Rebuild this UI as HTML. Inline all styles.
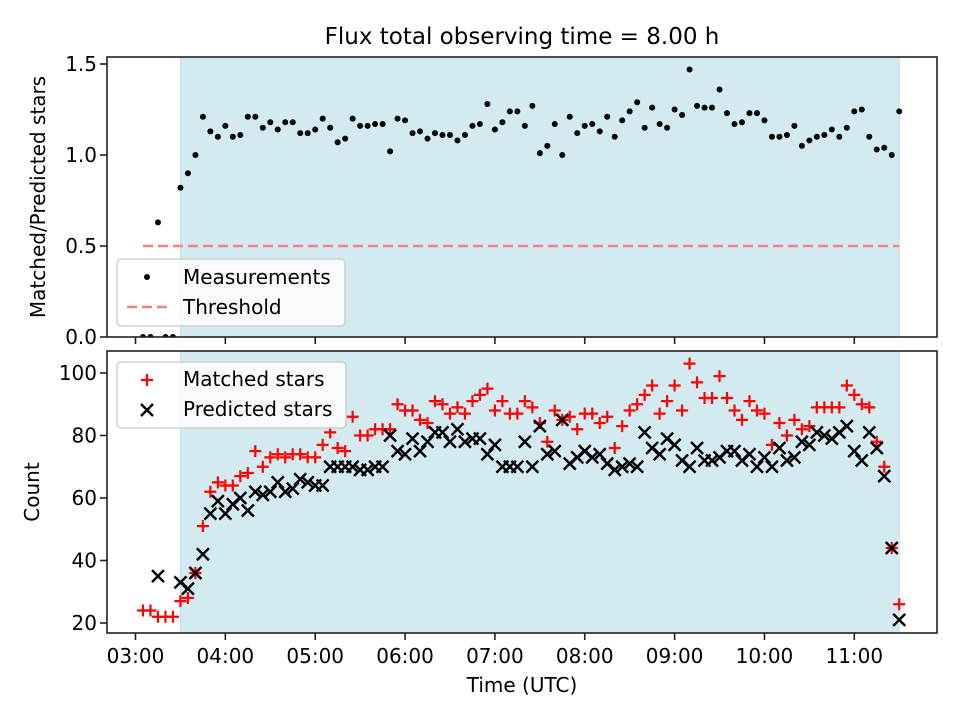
<!DOCTYPE html>
<html><head><meta charset="utf-8"><style>
html,body{margin:0;padding:0;background:#fff;}
svg{display:block;font-family:"DejaVu Sans","Liberation Sans",sans-serif;}
</style></head><body>
<svg id="fig" width="960" height="720" viewBox="0 0 960 720" xmlns="http://www.w3.org/2000/svg"></svg>
<script>
const ratioValues=[0,0,0.63,0,0,0.82,0.90,1.0,1.21,1.13,
1.10,1.16,1.10,1.11,1.21,1.21,1.15,1.18,1.14,1.18,
1.18,1.12,1.12,1.14,1.20,1.15,1.07,1.09,1.20,1.16,
1.16,1.17,1.17,1.02,1.20,1.19,1.12,1.13,1.09,1.12,
1.11,1.11,1.08,1.11,1.16,1.17,1.28,1.14,1.18,1.24,
1.24,1.16,1.27,1.01,1.05,1.17,1.00,1.21,1.12,1.16,
1.17,1.13,1.21,1.10,1.19,1.24,1.29,1.15,1.26,1.17,
1.15,1.25,1.22,1.47,1.27,1.26,1.26,1.36,1.23,1.17,
1.18,1.23,1.23,1.19,1.10,1.10,1.11,1.16,1.05,1.08,
1.10,1.11,1.14,1.10,1.15,1.24,1.25,1.10,1.03,1.04,
1.00,1.24];
const matchedValues=[24,24,22,22,22,27,28,36,51,62,65,64,64,67,68,75,70,73,74,73,74,74,73,73,77,
81,76,75,86,80,80,82,82,82,90,88,88,85,84,91,90,87,89,87,91,93,95,88,91,87,
87,91,89,84,78,88,85,86,82,87,87,84,86,76,83,88,90,93,96,87,91,96,88,
103,97,92,92,99,92,88,85,91,88,87,77,84,80,85,82,83,89,89,89,89,96,93,90,89,78,70,44,26];
const predictedValues=[0,0,35,0,0,33,31,36,42,55,59,55,58,60,56,62,61,62,65,62,63,66,65,64,64,
70,70,70,70,69,69,70,70,80,75,74,79,75,78,81,81,78,82,78,79,79,74,77,70,70,
70,78,70,83,74,75,85,71,73,75,73,74,71,69,70,71,70,81,76,74,79,77,72,
70,76,72,72,73,75,75,72,74,70,73,70,76,72,73,78,77,81,80,79,81,83,75,72,81,76,67,44,21];
const startMinute=5, stepMinute=5; // sample times: minutes after 03:00
const xTickLabels=["03:00","04:00","05:00","06:00","07:00","08:00","09:00","10:00","11:00"];
const xTickMinutes=[0,60,120,180,240,300,360,420,480];
const topTickValues=[0,0.5,1.0,1.5];
const topTickLabels=["0.0","0.5","1.0","1.5"];
const botTickValues=[20,40,60,80,100];
const threshold=0.5;
const shadeStart=30, shadeEnd=510;

const NS="http://www.w3.org/2000/svg";
const svg=document.getElementById('fig');
function el(tag,attrs,parent){const e=document.createElementNS(NS,tag);for(const k in attrs)e.setAttribute(k,attrs[k]);(parent||svg).appendChild(e);return e;}
const L=107,R=937,T1=57,B1=337,T2=351,B2=633;
const FS=20;
const xS=m=>135.5+m*89.85/60;
const y1=v=>337-v*182;
const y2=v=>623-(v-20)*3.125;

const defs=el('defs',{});
const c1=el('clipPath',{id:'c1'},defs);el('rect',{x:L,y:T1,width:R-L,height:B1-T1},c1);
const c2=el('clipPath',{id:'c2'},defs);el('rect',{x:L,y:T2,width:R-L,height:B2-T2},c2);

for(const [t,b,n] of [[T1,B1,'top'],[T2,B2,'bottom']]){
  const s=el('rect',{x:xS(shadeStart),y:t,width:xS(shadeEnd)-xS(shadeStart),height:b-t,fill:'#d4eaf1',stroke:'#c0dde8','stroke-width':1});
  
  
}

const th=el('line',{x1:xS(startMinute),x2:xS(shadeEnd),y1:y1(threshold),y2:y1(threshold),stroke:'#ff7f7f','stroke-width':2.5,'stroke-dasharray':'10,5'});



const g1=el('g',{'clip-path':'url(#c1)'});


ratioValues.forEach((v,i)=>{
  const c=el('circle',{cx:xS(startMinute+i*stepMinute),cy:y1(v),r:3,fill:'#000'},g1);
  
  
});

const g2=el('g',{'clip-path':'url(#c2)'});


matchedValues.forEach((v,i)=>{
  const x=xS(startMinute+i*stepMinute),y=y2(v),s=6;
  const p=el('path',{d:`M${x-s},${y}H${x+s}M${x},${y-s}V${y+s}`,stroke:'#ff0000','stroke-width':2.2,fill:'none'},g2);
  
  
});
const g3=el('g',{'clip-path':'url(#c2)'});


predictedValues.forEach((v,i)=>{
  const x=xS(startMinute+i*stepMinute),y=y2(v),s=6;
  const p=el('path',{d:`M${x-s},${y-s}L${x+s},${y+s}M${x-s},${y+s}L${x+s},${y-s}`,stroke:'#000','stroke-width':2.4,fill:'none'},g3);
  
  
});

for(const [t,b,n] of [[T1,B1,'top'],[T2,B2,'bottom']]){
  const f=el('rect',{x:L,y:t,width:R-L,height:b-t,fill:'none',stroke:'#222','stroke-width':1.6});
  
  
}

xTickMinutes.forEach((m,i)=>{
  const x=xS(m);
  el('line',{x1:x,x2:x,y1:B1,y2:B1+7,stroke:'#222','stroke-width':1.6});
  el('line',{x1:x,x2:x,y1:B2,y2:B2+7,stroke:'#222','stroke-width':1.6});
  const t=el('text',{x:x,y:B2+30,'font-size':FS,'text-anchor':'middle'});
  t.textContent=xTickLabels[i];
  
  
});
topTickValues.forEach((v,i)=>{
  const y=y1(v);
  el('line',{x1:L-7,x2:L,y1:y,y2:y,stroke:'#222','stroke-width':1.6});
  const t=el('text',{x:L-10,y:y+7,'font-size':FS,'text-anchor':'end'});
  t.textContent=topTickLabels[i];
  
  
});
botTickValues.forEach(v=>{
  const y=y2(v);
  el('line',{x1:L-7,x2:L,y1:y,y2:y,stroke:'#222','stroke-width':1.6});
  const t=el('text',{x:L-10,y:y+7,'font-size':FS,'text-anchor':'end'});
  t.textContent=String(v);
  
  
});

let t=el('text',{x:522,y:44,'font-size':23,'text-anchor':'middle'});t.textContent='Flux total observing time = 8.00 h';

t=el('text',{x:522,y:692,'font-size':FS,'text-anchor':'middle'});t.textContent='Time (UTC)';

t=el('text',{x:0,y:0,'font-size':FS,'text-anchor':'middle',transform:'translate(45,197) rotate(-90)'});t.textContent='Matched/Predicted stars';

t=el('text',{x:0,y:0,'font-size':FS,'text-anchor':'middle',transform:'translate(39,492) rotate(-90)'});t.textContent='Count';


let lg=el('g',{});

el('rect',{x:117,y:259,width:228,height:67,rx:4,fill:'#fff','fill-opacity':0.8,stroke:'#d0d0d0','stroke-width':1.5},lg);
el('circle',{cx:147,cy:277,r:3,fill:'#000'},lg);
t=el('text',{x:183,y:284,'font-size':FS},lg);t.textContent='Measurements';

el('line',{x1:127,x2:167,y1:307,y2:307,stroke:'#ff7f7f','stroke-width':2.5,'stroke-dasharray':'10,5'},lg);
t=el('text',{x:183,y:314,'font-size':FS},lg);t.textContent='Threshold';


lg=el('g',{});

el('rect',{x:117,y:362,width:229,height:66,rx:4,fill:'#fff','fill-opacity':0.8,stroke:'#d0d0d0','stroke-width':1.5},lg);
el('path',{d:'M141,380H153M147,374V386',stroke:'#ff0000','stroke-width':2.2},lg);
t=el('text',{x:183,y:386,'font-size':FS},lg);t.textContent='Matched stars';

el('path',{d:'M141,404L153,416M141,416L153,404',stroke:'#000','stroke-width':2.4},lg);
t=el('text',{x:183,y:416,'font-size':FS},lg);t.textContent='Predicted stars';

</script>
</body></html>
